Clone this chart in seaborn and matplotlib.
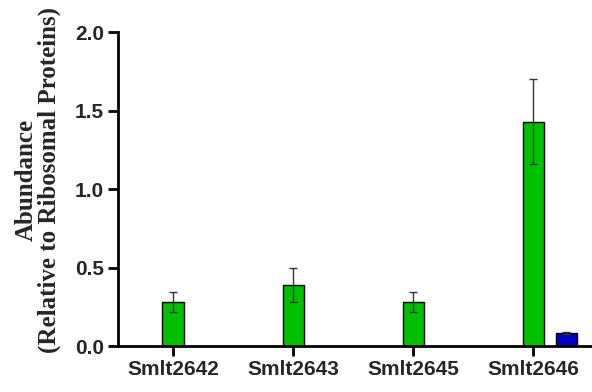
import pandas as pd
import matplotlib
matplotlib.use("Agg")
import matplotlib.pyplot as plt
import seaborn as sns

genes = ["Smlt2642", "Smlt2643", "Smlt2645", "Smlt2646"]
green_vals = [0.28, 0.39, 0.28, 1.43]
green_err = [0.065, 0.11, 0.05, 0.27]
blue_vals = [None, None, None, 0.083]
blue_err = [None, None, None, 0.005]

rows = []
for g, v, e in zip(genes, green_vals, green_err):
    rows.append({"gene": g, "group": "B", "value": v, "err": e})
for g, v, e in zip(genes, blue_vals, blue_err):
    if v is not None:
        rows.append({"gene": g, "group": "C", "value": v, "err": e})
df = pd.DataFrame(rows)

sns.set_style("ticks")
fig = plt.figure(figsize=(5.92, 3.92), dpi=100)
ax = fig.add_axes([0.199, 0.117, 0.801, 0.801])

palette = {"A": "#ffffff", "B": "#00c000", "C": "#0000c0"}
sns.barplot(data=df, x="gene", y="value", hue="group", hue_order=["A", "B", "C"],
            order=genes, palette=palette, width=0.825, gap=0.36, errorbar=None,
            saturation=1, edgecolor="black", linewidth=1, legend=False, ax=ax)

# error bars drawn on top of the bars seaborn placed
for p in ax.patches:
    h = p.get_height()
    if h != h or h == 0:
        continue
    cx = p.get_x() + p.get_width() / 2
    m = df[(df["value"] - h).abs() < 1e-9]
    if len(m) == 0:
        continue
    e = m["err"].iloc[0]
    ax.errorbar(cx, h, yerr=e, color="#333333", elinewidth=1, capsize=3,
                capthick=1, zorder=5)

ax.set_xlim(-0.46, 3.49)
ax.set_ylim(0, 2.0)
ax.set_yticks([0, 0.5, 1.0, 1.5, 2.0])
ax.set_yticklabels(["0.0", "0.5", "1.0", "1.5", "2.0"])
ax.set_xlabel("")
ax.set_ylabel("Abundance\n(Relative to Ribosomal Proteins)", family="Liberation Serif",
              fontweight="bold", fontsize=18, linespacing=1.0)
ax.yaxis.set_label_coords(-0.12, 0.53)
for lab in ax.get_xticklabels() + ax.get_yticklabels():
    lab.set_family("Liberation Sans")
    lab.set_fontweight("bold")
    lab.set_fontsize(15)
ax.tick_params(axis="both", width=2, length=7, color="black", pad=3)
for s in ["left", "bottom"]:
    ax.spines[s].set_linewidth(2)
    ax.spines[s].set_color("black")
sns.despine(ax=ax)

fig.savefig("out.png", dpi=100)
